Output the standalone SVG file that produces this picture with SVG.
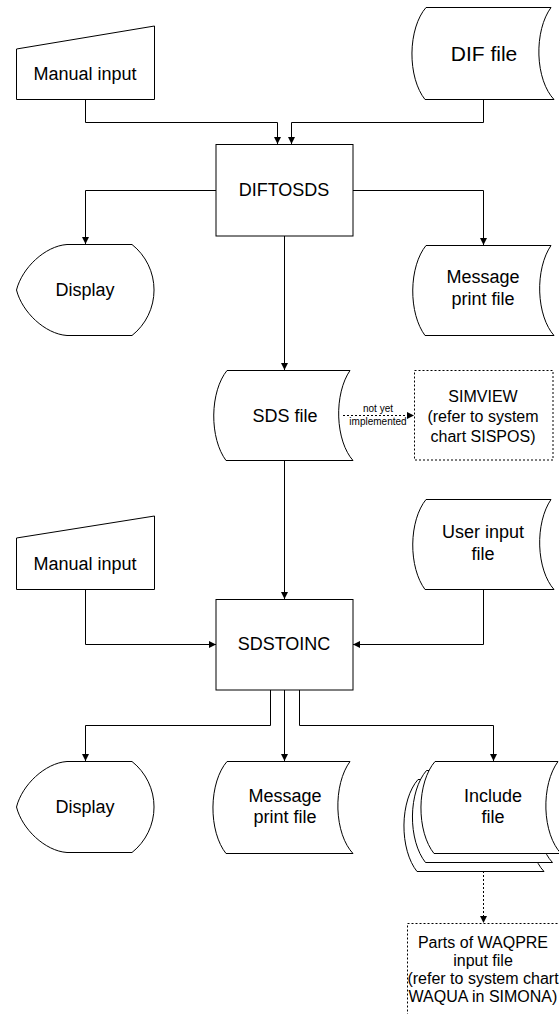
<svg xmlns="http://www.w3.org/2000/svg" width="559" height="1014" viewBox="0 0 559 1014">
<style>
.s{fill:#fff;stroke:#000;stroke-width:1}
.d{fill:#fff;stroke:#000;stroke-width:1;stroke-dasharray:2,2}
.c{fill:none;stroke:#000;stroke-width:1}
.cd{fill:none;stroke:#000;stroke-width:1;stroke-dasharray:2,2}
text{font-family:"Liberation Sans",Arial,sans-serif;font-size:18px;fill:#000;text-anchor:middle}
.big{font-size:21px}
.m{font-size:16px}
.sm{font-size:10px}
</style>
<defs>
<marker id="ah" markerUnits="userSpaceOnUse" markerWidth="8" markerHeight="8" refX="7" refY="3.5" orient="auto">
<path d="M0,0 L7,3.5 L0,7 Z" fill="#000"/>
</marker>
</defs>
<g id="connectors">
<path class="c" d="M85.5,99.5 V122.5 H277.5 V144" marker-end="url(#ah)"/>
<path class="c" d="M483.5,99.5 V122.5 H291.5 V144" marker-end="url(#ah)"/>
<path class="c" d="M216,190.5 H85.5 V244" marker-end="url(#ah)"/>
<path class="c" d="M353,190.5 H483.5 V245" marker-end="url(#ah)"/>
<path class="c" d="M284.5,236 V370" marker-end="url(#ah)"/>
<path class="cd" d="M343,415.5 H414" marker-end="url(#ah)"/>
<path class="c" d="M284.5,460.5 V599" marker-end="url(#ah)"/>
<path class="c" d="M85.5,589.5 V644.5 H216" marker-end="url(#ah)"/>
<path class="c" d="M483.5,589.5 V644.5 H353" marker-end="url(#ah)"/>
<path class="c" d="M270.5,690 V725.5 H85.5 V761" marker-end="url(#ah)"/>
<path class="c" d="M284.5,690 V761" marker-end="url(#ah)"/>
<path class="c" d="M299.5,690 V725.5 H493.5 V761" marker-end="url(#ah)"/>
<path class="cd" d="M483.5,871 V923" marker-end="url(#ah)"/>
<text class="sm" x="378" y="412">not yet</text>
<text class="sm" x="378" y="425">implemented</text>
</g>
<g id="manual-input-1">
<polygon class="s" points="16.5,49 154.5,26 154.5,99.5 16.5,99.5"/>
<text x="85" y="80">Manual input</text>
</g>
<g id="dif-file">
<path class="s" d="M426,7.5 H551 A30 55 0 0 0 554,99.5 H425 A30 55 0 0 1 426,7.5 Z"/>
<text class="big" x="484" y="61">DIF file</text>
</g>
<g id="diftosds">
<rect class="s" x="216" y="144.5" width="137" height="91.5"/>
<text x="284" y="196">DIFTOSDS</text>
</g>
<g id="display-1">
<path class="s" d="M67,244.5 H132 A58 58 0 0 1 132,335.5 H67 C45,334 22,312 16.5,290 C22,268 45,246 67,244.5 Z"/>
<text x="85" y="296">Display</text>
</g>
<g id="message-print-file-1">
<path class="s" d="M426,245.5 H551 A30 55 0 0 0 554,335.5 H425 A30 55 0 0 1 426,245.5 Z"/>
<text x="483" y="283">Message</text>
<text x="483" y="305">print file</text>
</g>
<g id="sds-file">
<path class="s" d="M227,370.5 H350 A30 55 0 0 0 353,460.5 H226 A30 55 0 0 1 227,370.5 Z"/>
<text x="285" y="422">SDS file</text>
</g>
<g id="simview">
<rect class="d" x="414.5" y="370.5" width="138.5" height="89.5"/>
<text class="m" x="483" y="402">SIMVIEW</text>
<text class="m" x="483" y="422">(refer to system</text>
<text class="m" x="483" y="442">chart SISPOS)</text>
</g>
<g id="manual-input-2">
<polygon class="s" points="16.5,538 154.5,516 154.5,589.5 16.5,589.5"/>
<text x="85" y="570">Manual input</text>
</g>
<g id="user-input-file">
<path class="s" d="M426,499.5 H551 A30 55 0 0 0 554,589.5 H425 A30 55 0 0 1 426,499.5 Z"/>
<text x="483" y="538">User input</text>
<text x="483" y="560">file</text>
</g>
<g id="sdstoinc">
<rect class="s" x="216" y="599.5" width="137" height="90.5"/>
<text x="284" y="650">SDSTOINC</text>
</g>
<g id="display-2">
<path class="s" d="M67,761.5 H132 A58 58 0 0 1 132,852.5 H67 C45,851 22,829 16.5,807 C22,785 45,763 67,761.5 Z"/>
<text x="85" y="813">Display</text>
</g>
<g id="message-print-file-2">
<path class="s" d="M227,761.5 H350 A30 55 0 0 0 353,853.5 H226 A30 55 0 0 1 227,761.5 Z"/>
<text x="285" y="802">Message</text>
<text x="285" y="823">print file</text>
</g>
<g id="include-file">
<path class="s" d="M418,779.5 H541 A30 55 0 0 0 544,871.5 H417 A30 55 0 0 1 418,779.5 Z"/>
<path class="s" d="M426.5,770.5 H549.5 A30 55 0 0 0 552.5,862.5 H425.5 A30 55 0 0 1 426.5,770.5 Z"/>
<path class="s" d="M435,761.5 H558 A30 55 0 0 0 561,853.5 H434 A30 55 0 0 1 435,761.5 Z"/>
<text x="493" y="802">Include</text>
<text x="493" y="823">file</text>
</g>
<g id="waqpre">
<rect class="d" x="407.5" y="923.5" width="160" height="100"/>
<text class="m" x="483" y="948">Parts of WAQPRE</text>
<text class="m" x="483" y="966">input file</text>
<text class="m" x="483" y="984">(refer to system chart</text>
<text class="m" x="483" y="1002">WAQUA in SIMONA)</text>
</g>
</svg>
